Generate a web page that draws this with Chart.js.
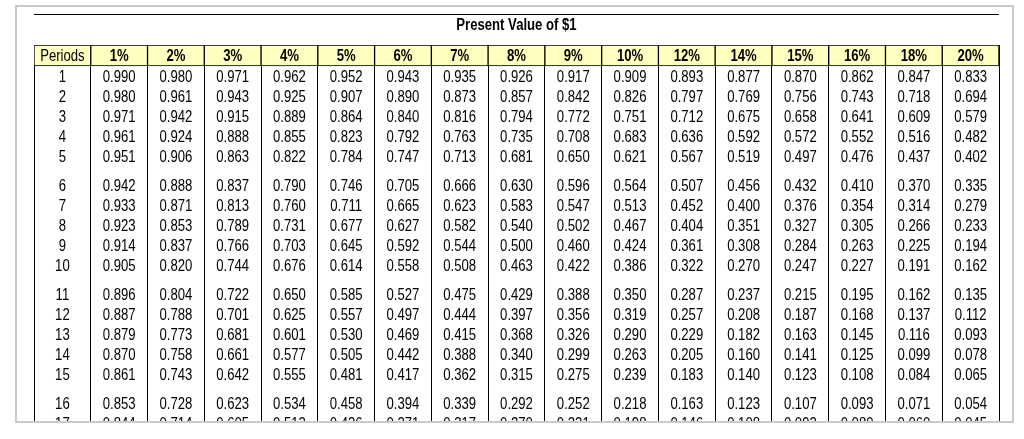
<!DOCTYPE html>
<html>
<head>
<meta charset="utf-8">
<title>Present Value of $1</title>
<script src="https://cdn.jsdelivr.net/npm/chart.js@4/dist/chart.umd.min.js"></script>
<style>
  html, body { margin: 0; padding: 0; background: #fff; }
  canvas { display: block; }
</style>
</head>
<body>
<canvas id="pvChart" width="1024" height="439"></canvas>
<script>
// 1. DATA
// Column headers and periods
const title = 'Present Value of $1';
const firstHeader = 'Periods';
const rates = ['1%', '2%', '3%', '4%', '5%', '6%', '7%', '8%', '9%', '10%', '12%', '14%', '15%', '16%', '18%', '20%'];
const periods = [1, 2, 3, 4, 5, 6, 7, 8, 9, 10, 11, 12, 13, 14, 15, 16, 17];

// One array per rate column (periods 1..17, row 17 is cut off at the bottom)
const pv1  = [0.990, 0.980, 0.971, 0.961, 0.951, 0.942, 0.933, 0.923, 0.914, 0.905, 0.896, 0.887, 0.879, 0.870, 0.861, 0.853, 0.844];
const pv2  = [0.980, 0.961, 0.942, 0.924, 0.906, 0.888, 0.871, 0.853, 0.837, 0.820, 0.804, 0.788, 0.773, 0.758, 0.743, 0.728, 0.714];
const pv3  = [0.971, 0.943, 0.915, 0.888, 0.863, 0.837, 0.813, 0.789, 0.766, 0.744, 0.722, 0.701, 0.681, 0.661, 0.642, 0.623, 0.605];
const pv4  = [0.962, 0.925, 0.889, 0.855, 0.822, 0.790, 0.760, 0.731, 0.703, 0.676, 0.650, 0.625, 0.601, 0.577, 0.555, 0.534, 0.513];
const pv5  = [0.952, 0.907, 0.864, 0.823, 0.784, 0.746, 0.711, 0.677, 0.645, 0.614, 0.585, 0.557, 0.530, 0.505, 0.481, 0.458, 0.436];
const pv6  = [0.943, 0.890, 0.840, 0.792, 0.747, 0.705, 0.665, 0.627, 0.592, 0.558, 0.527, 0.497, 0.469, 0.442, 0.417, 0.394, 0.371];
const pv7  = [0.935, 0.873, 0.816, 0.763, 0.713, 0.666, 0.623, 0.582, 0.544, 0.508, 0.475, 0.444, 0.415, 0.388, 0.362, 0.339, 0.317];
const pv8  = [0.926, 0.857, 0.794, 0.735, 0.681, 0.630, 0.583, 0.540, 0.500, 0.463, 0.429, 0.397, 0.368, 0.340, 0.315, 0.292, 0.270];
const pv9  = [0.917, 0.842, 0.772, 0.708, 0.650, 0.596, 0.547, 0.502, 0.460, 0.422, 0.388, 0.356, 0.326, 0.299, 0.275, 0.252, 0.231];
const pv10 = [0.909, 0.826, 0.751, 0.683, 0.621, 0.564, 0.513, 0.467, 0.424, 0.386, 0.350, 0.319, 0.290, 0.263, 0.239, 0.218, 0.198];
const pv12 = [0.893, 0.797, 0.712, 0.636, 0.567, 0.507, 0.452, 0.404, 0.361, 0.322, 0.287, 0.257, 0.229, 0.205, 0.183, 0.163, 0.146];
const pv14 = [0.877, 0.769, 0.675, 0.592, 0.519, 0.456, 0.400, 0.351, 0.308, 0.270, 0.237, 0.208, 0.182, 0.160, 0.140, 0.123, 0.108];
const pv15 = [0.870, 0.756, 0.658, 0.572, 0.497, 0.432, 0.376, 0.327, 0.284, 0.247, 0.215, 0.187, 0.163, 0.141, 0.123, 0.107, 0.093];
const pv16 = [0.862, 0.743, 0.641, 0.552, 0.476, 0.410, 0.354, 0.305, 0.263, 0.227, 0.195, 0.168, 0.145, 0.125, 0.108, 0.093, 0.080];
const pv18 = [0.847, 0.718, 0.609, 0.516, 0.437, 0.370, 0.314, 0.266, 0.225, 0.191, 0.162, 0.137, 0.116, 0.099, 0.084, 0.071, 0.060];
const pv20 = [0.833, 0.694, 0.579, 0.482, 0.402, 0.335, 0.279, 0.233, 0.194, 0.162, 0.135, 0.112, 0.093, 0.078, 0.065, 0.054, 0.045];

const columns = [pv1, pv2, pv3, pv4, pv5, pv6, pv7, pv8, pv9, pv10, pv12, pv14, pv15, pv16, pv18, pv20];

// 2. LAYOUT HELPERS
// y axis is in "row units"; header sits on 0..HEADER_H, rows come in blocks of 5 with a small gap
const HEADER_H = 1.05;
const FIRST_ROW = 1.585;
const BLOCK_GAP = 0.45;
const NARROW = 0.82;   // squeeze Liberation Sans to look like Arial Narrow
const FONT_PX = 16;

function rowPos(i) {
    return FIRST_ROW + i + BLOCK_GAP * Math.floor(i / 5);
}

function narrowText(ctx, txt, x, yCenter, weight) {
    ctx.save();
    ctx.font = weight + ' ' + FONT_PX + 'px "Liberation Sans", Arial, sans-serif';
    ctx.fillStyle = '#000';
    ctx.textAlign = 'center';
    ctx.textBaseline = 'alphabetic';
    ctx.translate(x, yCenter + FONT_PX * 0.358);
    ctx.scale(NARROW, 1);
    ctx.fillText(txt, 0, 0);
    ctx.restore();
}

// 3. PLUGIN: frame, title rule, title and cell texts
const tablePlugin = {
    id: 'pvTable',
    beforeDraw(chart) {
        const ctx = chart.ctx;
        const area = chart.chartArea;
        ctx.save();
        ctx.fillStyle = '#fff';
        ctx.fillRect(0, 0, chart.width, chart.height);
        // light grey outer frame
        ctx.strokeStyle = '#c9c9c9';
        ctx.lineWidth = 2;
        ctx.strokeRect(16, 6, 997, 416);
        // rule above the title
        ctx.fillStyle = '#000';
        ctx.fillRect(area.left, 14, area.right - area.left, 1);
        ctx.restore();
        narrowText(ctx, title, (area.left + area.right) / 2, 24.5, 'bold');
    },
    afterDraw(chart) {
        const ctx = chart.ctx;
        const area = chart.chartArea;
        const x = chart.scales.x;
        const y = chart.scales.y;

        ctx.save();
        ctx.beginPath();
        ctx.rect(area.left, area.top, area.right - area.left, area.bottom - area.top);
        ctx.clip();

        // header row
        const yHead = y.getPixelForValue(HEADER_H / 2);
        narrowText(ctx, firstHeader, x.getPixelForValue(0), yHead, 'normal');
        rates.forEach((r, c) => {
            narrowText(ctx, r, x.getPixelForValue(c + 1), yHead, 'bold');
        });

        // body rows
        periods.forEach((p, i) => {
            const yy = y.getPixelForValue(rowPos(i));
            narrowText(ctx, String(p), x.getPixelForValue(0), yy, 'normal');
            columns.forEach((col, c) => {
                narrowText(ctx, col[i].toFixed(3), x.getPixelForValue(c + 1), yy, 'normal');
            });
        });
        ctx.restore();
    }
};

// 4. CHART
const labels = [firstHeader].concat(rates);
const ctx = document.getElementById('pvChart').getContext('2d');

window.pvChart = new Chart(ctx, {
    type: 'bar',
    data: {
        labels: labels,
        datasets: [{
            label: 'header',
            data: labels.map(() => [0, HEADER_H]),
            backgroundColor: '#ffffc0',
            borderColor: '#000',
            borderWidth: 1,
            borderSkipped: false,
            barPercentage: 1,
            categoryPercentage: 1
        }]
    },
    options: {
        responsive: false,
        devicePixelRatio: 1,
        animation: false,
        layout: { padding: { left: 34, right: 25, top: 45, bottom: 18 } },
        plugins: {
            legend: { display: false },
            tooltip: { enabled: false },
            title: { display: false }
        },
        scales: {
            x: {
                type: 'category',
                offset: true,
                ticks: { display: false },
                border: { display: false },
                grid: { offset: true, color: '#000', lineWidth: 1, drawTicks: false }
            },
            y: {
                type: 'linear',
                display: false,
                reverse: true,
                min: 0,
                max: 18.8
            }
        }
    },
    plugins: [tablePlugin]
});
</script>
</body>
</html>
